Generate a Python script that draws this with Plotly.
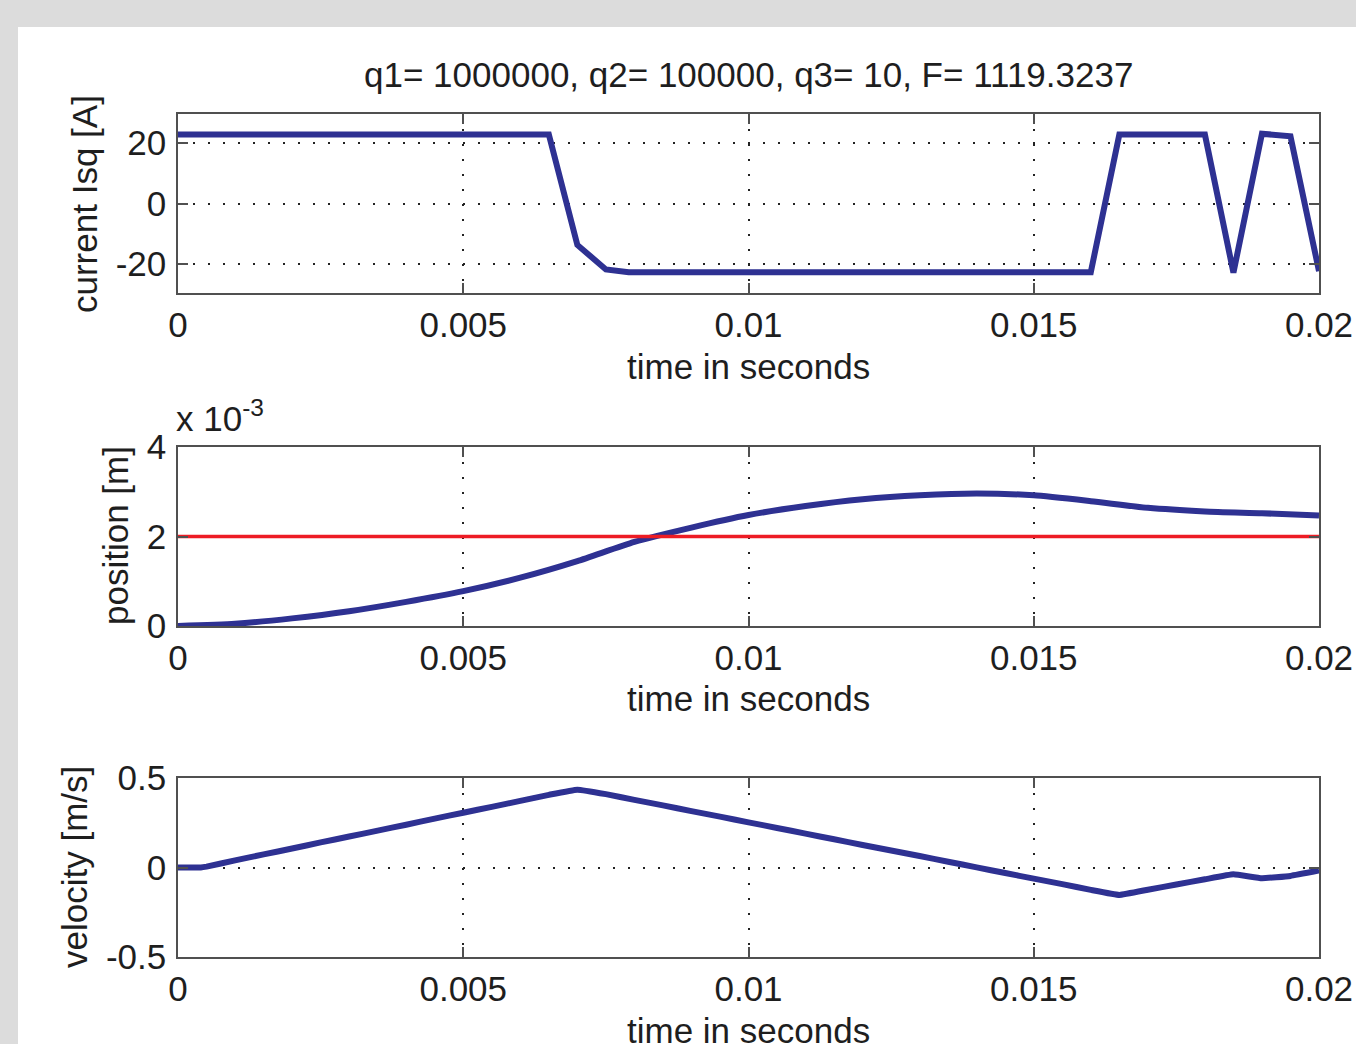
import plotly.graph_objects as go

# ---------------- data ----------------
time_current = [0.0, 0.0065, 0.007, 0.0075, 0.0079, 0.016, 0.0165, 0.018, 0.0185, 0.019, 0.0195, 0.02]
current_isq = [22.8, 22.8, -13.7, -21.8, -22.7, -22.7, 22.8, 22.8, -22.9, 23.1, 22.2, -22.4]

time_position = [0.0, 0.001, 0.002, 0.003, 0.004, 0.005, 0.006, 0.007, 0.008, 0.009, 0.01,
                 0.011, 0.012, 0.013, 0.014, 0.015, 0.016, 0.017, 0.018, 0.019, 0.02]
position_e3 = [0.0, 0.05, 0.17, 0.33, 0.54, 0.78, 1.08, 1.45, 1.88, 2.2, 2.48,
               2.68, 2.83, 2.92, 2.96, 2.92, 2.79, 2.64, 2.56, 2.52, 2.47]

time_reference = [0.0, 0.02]
position_reference_e3 = [2.0, 2.0]

time_velocity = [0.0, 0.0004, 0.0005, 0.001, 0.0015, 0.002, 0.0025, 0.003, 0.0035, 0.004, 0.0045,
                 0.005, 0.0055, 0.006, 0.0065, 0.007, 0.0075, 0.008, 0.0085, 0.009, 0.0095,
                 0.01, 0.0105, 0.011, 0.0115, 0.012, 0.0125, 0.013, 0.0135, 0.014, 0.0145,
                 0.015, 0.0155, 0.016, 0.0165, 0.017, 0.0175, 0.018, 0.0185, 0.019, 0.0195, 0.02]
velocity = [0.0, 0.0, 0.005, 0.040, 0.073, 0.106, 0.140, 0.173, 0.206, 0.239, 0.273,
            0.306, 0.339, 0.372, 0.406, 0.435, 0.41, 0.378, 0.347, 0.315, 0.284,
            0.252, 0.221, 0.189, 0.158, 0.126, 0.095, 0.064, 0.032, 0.001, -0.031,
            -0.062, -0.093, -0.125, -0.153, -0.124, -0.095, -0.066, -0.038, -0.060, -0.047, -0.017]

x_tick_values = [0, 0.005, 0.01, 0.015, 0.02]
x_tick_labels = ["0", "0.005", "0.01", "0.015", "0.02"]
current_ticks = [-20, 0, 20]
current_tick_labels = ["-20", "0", "20"]
position_ticks = [0, 2, 4]
position_tick_labels = ["0", "2", "4"]
velocity_ticks = [-0.5, 0, 0.5]
velocity_tick_labels = ["-0.5", "0", "0.5"]

title_text = "q1= 1000000, q2= 100000, q3= 10, F= 1119.3237"
x_title = "time in seconds"
y_titles = ["current Isq [A]", "position [m]", "velocity [m/s]"]

# ---------------- style ----------------
W, H = 1356, 1044
BLUE = "rgb(46,49,146)"
RED = "rgb(237,28,36)"
FONT = "Liberation Sans, Arial, sans-serif"
FS = 35
TXT = "#1e1e1e"
FRAME = "#505050"

def px_x(p):
    return p / W

def px_y(p):
    return 1 - p / H

x0, x1 = 178, 1319
panels = [(114, 293), (447, 626), (778, 957)]

fig = go.Figure()
fig.add_trace(go.Scatter(x=time_current, y=current_isq, mode="lines",
                         line=dict(color=BLUE, width=6), xaxis="x", yaxis="y"))
fig.add_trace(go.Scatter(x=time_position, y=position_e3, mode="lines",
                         line=dict(color=BLUE, width=6, shape="spline", smoothing=0.6),
                         xaxis="x2", yaxis="y2"))
fig.add_trace(go.Scatter(x=time_reference, y=position_reference_e3, mode="lines",
                         line=dict(color=RED, width=3.5), xaxis="x2", yaxis="y2"))
fig.add_trace(go.Scatter(x=time_velocity, y=velocity, mode="lines",
                         line=dict(color=BLUE, width=6, shape="spline", smoothing=0.3),
                         xaxis="x3", yaxis="y3"))

common = dict(
    showgrid=True, gridcolor="#222222", griddash="2px,13px", gridwidth=1.5,
    ticks="inside", ticklen=10, tickcolor=FRAME, tickwidth=1.5,
    showline=True, linecolor=FRAME, linewidth=1.5, mirror="ticks",
    zeroline=False, automargin=False, ticklabeloverflow="allow",
    tickfont=dict(family=FONT, size=FS, color=TXT),
)

y_cfg = [
    dict(range=[-29.6, 29.6], tickvals=current_ticks, ticktext=current_tick_labels),
    dict(range=[0, 4], tickvals=position_ticks, ticktext=position_tick_labels),
    dict(range=[-0.5, 0.5], tickvals=velocity_ticks, ticktext=velocity_tick_labels),
]

layout = dict(
    width=W, height=H, margin=dict(l=0, r=0, t=0, b=0, pad=0, autoexpand=False),
    paper_bgcolor="#dcdcdc", plot_bgcolor="white", showlegend=False,
    font=dict(family=FONT, size=FS, color=TXT),
)
for i, (top, bot) in enumerate(panels):
    sfx = "" if i == 0 else str(i + 1)
    layout["xaxis" + sfx] = dict(common, domain=[px_x(x0), px_x(x1)], range=[0, 0.02],
                                 tickvals=x_tick_values, ticktext=x_tick_labels,
                                 anchor="y" + sfx, ticklabelstandoff=0)
    layout["yaxis" + sfx] = dict(common, domain=[px_y(bot), px_y(top)],
                                 anchor="x" + sfx, ticklabelstandoff=3, **y_cfg[i])
fig.update_layout(**layout)

fig.add_shape(type="rect", xref="paper", yref="paper", x0=px_x(18), x1=1.0,
              y0=0.0, y1=px_y(27), fillcolor="white", line=dict(width=0), layer="below")

ann = []
ann.append(dict(text=title_text, x=px_x(748), y=px_y(74)))
for yc in (366, 698, 1030):
    ann.append(dict(text=x_title, x=px_x(748), y=px_y(yc)))
for (xc, yc), t in zip([(85, 204), (115, 536), (74, 867)], y_titles):
    ann.append(dict(text=t, x=px_x(xc), y=px_y(yc), textangle=-90))
for a in ann:
    fig.add_annotation(xref="paper", yref="paper", xanchor="center", yanchor="middle",
                       showarrow=False, font=dict(family=FONT, size=FS, color=TXT), **a)
fig.add_annotation(xref="paper", yref="paper", x=px_x(174), y=px_y(416),
                   xanchor="left", yanchor="middle", showarrow=False,
                   text="x 10<sup>-3</sup>", font=dict(family=FONT, size=FS, color=TXT))

# remove the default 8px page margin so the figure fills the window exactly
fig.write_html("out.html",
               config={"displayModeBar": False},
               post_script="document.body.style.margin='0';document.body.style.overflow='hidden';")
